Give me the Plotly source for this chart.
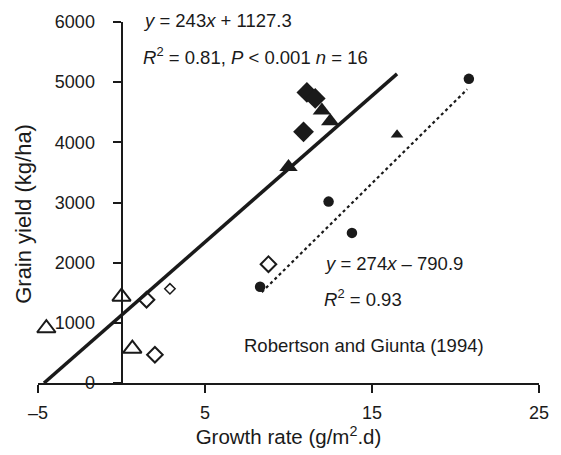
import numpy as np
import plotly.graph_objects as go

# ---- data ----
filled_diamond_x = [11.1, 11.6, 10.9]
filled_diamond_y = [4830, 4730, 4175]
filled_triangle_x = [12.0, 12.5, 10.0]
filled_triangle_y = [4530, 4350, 3590]
small_filled_triangle_x = [16.5]
small_filled_triangle_y = [4125]
open_triangle_x = [-4.5, 0.0, 0.65]
open_triangle_y = [910, 1435, 570]
open_diamond_x = [1.5, 2.0, 8.8]
open_diamond_y = [1385, 470, 1975]
small_open_diamond_x = [2.9]
small_open_diamond_y = [1565]
circle_x = [8.3, 12.4, 13.8, 20.8]
circle_y = [1600, 3015, 2495, 5055]

fit1_slope, fit1_intercept = 243.0, 1127.3
fit1_xrange = [-4.64, 16.5]
fit2_slope, fit2_intercept = 274.0, -790.9
fit2_xrange = [8.4, 20.7]

x_tickvals = [-5, 5, 15, 25]
x_ticktext = ["\u20135", "5", "15", "25"]
y_tickvals = [0, 1000, 2000, 3000, 4000, 5000, 6000]

FONT = "Liberation Sans, Arial, sans-serif"
INK = "#1a1a1a"

fig = go.Figure()

fx1 = np.array(fit1_xrange)
fig.add_trace(go.Scatter(x=fx1, y=fit1_slope * fx1 + fit1_intercept, mode="lines",
                         line=dict(color=INK, width=3.5), hoverinfo="skip", showlegend=False))
fx2 = np.array(fit2_xrange)
fig.add_trace(go.Scatter(x=fx2, y=fit2_slope * fx2 + fit2_intercept, mode="lines",
                         line=dict(color=INK, width=2.2, dash="dot"), hoverinfo="skip", showlegend=False))

def pts(x, y, symbol, size, lw=0):
    fig.add_trace(go.Scatter(x=x, y=y, mode="markers", cliponaxis=False, showlegend=False,
                             marker=dict(symbol=symbol, size=size, color=INK,
                                         line=dict(color=INK, width=lw))))

pts(filled_diamond_x, filled_diamond_y, "diamond", 16)
pts(filled_triangle_x, filled_triangle_y, "triangle-up", 16)
pts(small_filled_triangle_x, small_filled_triangle_y, "triangle-up", 11)
pts(open_triangle_x, open_triangle_y, "triangle-up-open", 16, 2)
pts(open_diamond_x, open_diamond_y, "diamond-open", 12, 2)
pts(small_open_diamond_x, small_open_diamond_y, "diamond-open", 8, 1.5)
pts(circle_x, circle_y, "circle", 10.5)

ann = dict(showarrow=False, xref="paper", yref="paper", font=dict(family=FONT, size=18.5, color=INK))
annotations = [
    dict(text="<i>y</i> = 243<i>x</i> + 1127.3", x=0.206, y=1.003, xanchor="left", yanchor="middle", **ann),
    dict(text="<i>R</i><sup>2</sup> = 0.81, <i>P</i> &lt; 0.001 <i>n</i> = 16", x=0.206, y=0.905,
         xanchor="left", yanchor="middle", **ann),
    dict(text="<i>y</i> = 274<i>x</i> \u2013 790.9", x=0.567, y=0.33, xanchor="left", yanchor="middle", **ann),
    dict(text="<i>R</i><sup>2</sup> = 0.93", x=0.567, y=0.235, xanchor="left", yanchor="middle", **ann),
    dict(text="Robertson and Giunta (1994)", x=0.651, y=0.103, xanchor="center", yanchor="middle", **ann),
]

fig.update_layout(
    width=561, height=455,
    margin=dict(l=38, r=13, t=15, b=72),
    paper_bgcolor="white", plot_bgcolor="white",
    font=dict(family=FONT, size=18, color=INK),
    annotations=annotations,
    xaxis=dict(range=[-5, 25], tickvals=x_tickvals, ticktext=x_ticktext,
               showline=True, linecolor=INK, linewidth=2, ticks="outside", ticklen=8,
               tickwidth=2, tickcolor=INK, showgrid=False, zeroline=False,
               ticklabelstandoff=4,
               title=dict(text="Growth rate (g/m<sup>2</sup>.d)", standoff=4,
                          font=dict(family=FONT, size=20.5, color=INK)),
               tickfont=dict(family=FONT, size=18, color=INK), fixedrange=True),
    yaxis=dict(range=[0, 6000], tickvals=y_tickvals, anchor="free", position=5 / 30,
               showline=True, linecolor=INK, linewidth=2, ticks="outside", ticklen=8,
               tickwidth=2, tickcolor=INK, showgrid=False, zeroline=False,
               ticklabelstandoff=14,
               tickfont=dict(family=FONT, size=18, color=INK), fixedrange=True),
)
fig.add_annotation(text="Grain yield (kg/ha)", textangle=-90, xref="paper", yref="paper",
                   x=-0.029, y=0.47, xanchor="center", yanchor="middle", showarrow=False,
                   font=dict(family=FONT, size=22, color=INK))

fig.write_html("out.html")
